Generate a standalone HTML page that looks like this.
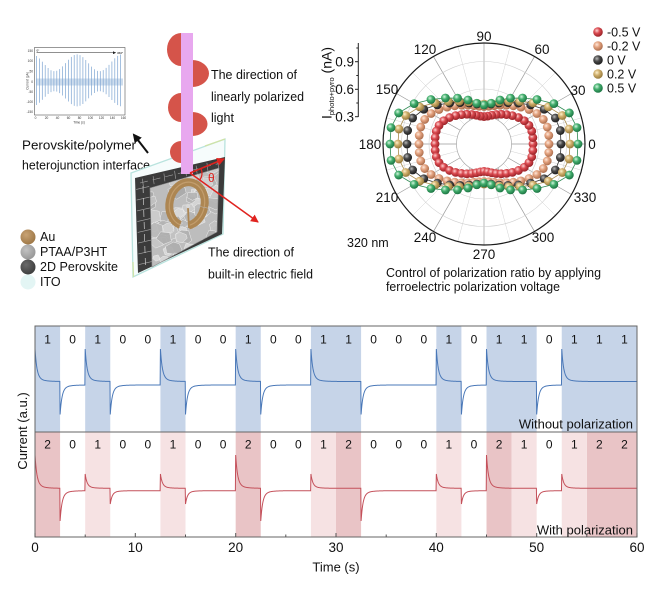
<!DOCTYPE html>
<html><head><meta charset="utf-8">
<style>
html,body{margin:0;padding:0;background:#fff;}
svg{display:block;}
text{font-family:"Liberation Sans",Arial,sans-serif;}
</style></head><body>
<svg id="s" xmlns="http://www.w3.org/2000/svg" width="650" height="591" viewBox="0 0 650 591">
<defs>
 <marker id="ab" markerWidth="9" markerHeight="9" refX="7" refY="4.5" orient="auto" markerUnits="userSpaceOnUse"><path d="M0,0 L9,4.5 L0,9 z" fill="#111"/></marker>
 <marker id="ar" markerWidth="8" markerHeight="8" refX="7" refY="4" orient="auto" markerUnits="userSpaceOnUse"><path d="M0,0 L8,4 L0,8 z" fill="#e0231f"/></marker>
 <marker id="ai" markerWidth="3" markerHeight="3" refX="3" refY="1.5" orient="auto" markerUnits="userSpaceOnUse"><path d="M0,0 L3,1.5 L0,3 z" fill="#222"/></marker>
 <radialGradient id="gR" cx="0.38" cy="0.35" r="0.65"><stop offset="0" stop-color="#ffd2d2"/><stop offset="0.45" stop-color="#da4a50"/><stop offset="1" stop-color="#9a2328"/></radialGradient>
 <radialGradient id="gS" cx="0.38" cy="0.35" r="0.65"><stop offset="0" stop-color="#ffe8da"/><stop offset="0.45" stop-color="#e3a27f"/><stop offset="1" stop-color="#ad6f4e"/></radialGradient>
 <radialGradient id="gK" cx="0.38" cy="0.35" r="0.65"><stop offset="0" stop-color="#b8b8b8"/><stop offset="0.45" stop-color="#4a4a4a"/><stop offset="1" stop-color="#1e1e1e"/></radialGradient>
 <radialGradient id="gG" cx="0.38" cy="0.35" r="0.65"><stop offset="0" stop-color="#fff1cc"/><stop offset="0.45" stop-color="#cfae6b"/><stop offset="1" stop-color="#977a3c"/></radialGradient>
 <radialGradient id="gN" cx="0.38" cy="0.35" r="0.65"><stop offset="0" stop-color="#d4f6df"/><stop offset="0.45" stop-color="#43ae6d"/><stop offset="1" stop-color="#1d7644"/></radialGradient>
 <radialGradient id="gAu" cx="0.38" cy="0.35" r="0.7"><stop offset="0" stop-color="#c9a374"/><stop offset="1" stop-color="#9c7645"/></radialGradient>
 <radialGradient id="gPT" cx="0.38" cy="0.35" r="0.7"><stop offset="0" stop-color="#c2c2c2"/><stop offset="1" stop-color="#959595"/></radialGradient>
 <radialGradient id="gPV" cx="0.38" cy="0.35" r="0.7"><stop offset="0" stop-color="#6a6a6a"/><stop offset="1" stop-color="#3c3c3c"/></radialGradient>
 <clipPath id="fc"><polygon points="150,188 219,168 217,232 152,267"/></clipPath>
</defs>

<!-- ===== Inset graph ===== -->
<g id="inset">
 <rect x="34.5" y="47.5" width="90.5" height="67.5" fill="#fff" stroke="#555" stroke-width="0.6"/>
 <rect x="36" y="78.5" width="87" height="7" fill="#b9cfe6" opacity="0.7"/>
 <g id="insetLines"></g>
 <line x1="36.5" y1="52.7" x2="116" y2="52.7" stroke="#222" stroke-width="0.5" marker-end="url(#ai)"/>
 <text x="36.5" y="51.5" font-size="3">0°</text>
 <text x="117" y="54" font-size="3">360°</text>
 <g font-size="3.2" fill="#333" text-anchor="end">
  <text x="33" y="52">150</text><text x="33" y="62">100</text><text x="33" y="72.5">50</text><text x="33" y="82.8">0</text><text x="33" y="93">-50</text><text x="33" y="103">-100</text><text x="33" y="113">-150</text>
 </g>
 <g font-size="3.2" fill="#333" text-anchor="middle">
  <text x="35.5" y="119">0</text><text x="46.5" y="119">20</text><text x="57.5" y="119">40</text><text x="68.5" y="119">60</text><text x="79.5" y="119">80</text><text x="90.5" y="119">100</text><text x="101.5" y="119">120</text><text x="112.5" y="119">140</text><text x="123.5" y="119">160</text>
  <text x="79" y="123.5">Time (s)</text>
  <text transform="translate(28.5,81) rotate(-90)">Current (pA)</text>
 </g>
</g>

<!-- black arrow -->
<line x1="148" y1="153" x2="134" y2="135" stroke="#111" stroke-width="2" marker-end="url(#ab)"/>

<!-- texts left -->
<g font-size="12.5" fill="#111">
 <text x="22" y="149.5" textLength="114" lengthAdjust="spacingAndGlyphs">Perovskite/polymer</text>
 <text x="22" y="169.5" textLength="128" lengthAdjust="spacingAndGlyphs">heterojunction interface</text>
 <text x="211" y="79" textLength="86" lengthAdjust="spacingAndGlyphs">The direction of</text>
 <text x="211" y="101" textLength="93" lengthAdjust="spacingAndGlyphs">linearly polarized</text>
 <text x="211" y="122">light</text>
 <text x="208" y="256.5" textLength="86" lengthAdjust="spacingAndGlyphs">The direction of</text>
 <text x="208" y="278.5" textLength="105" lengthAdjust="spacingAndGlyphs">built-in electric field</text>
 <text x="40" y="241">Au</text>
 <text x="40" y="256">PTAA/P3HT</text>
 <text x="40" y="271" textLength="78" lengthAdjust="spacingAndGlyphs">2D Perovskite</text>
 <text x="40" y="286">ITO</text>
</g>
<circle cx="28" cy="237" r="7.5" fill="url(#gAu)"/>
<circle cx="28" cy="252" r="7.5" fill="url(#gPT)"/>
<circle cx="28" cy="267" r="7.5" fill="url(#gPV)"/>
<circle cx="28" cy="282" r="7.5" fill="#e3f5f4"/>

<!-- ===== Device ===== -->
<polygon points="131,173 225,139 223,234 133,277" fill="#f6fcfc" stroke="#b9e3de" stroke-width="1.3"/>
<line x1="205" y1="146" x2="225" y2="139" stroke="#cfe3a8" stroke-width="1.3"/>
<line x1="133" y1="262" x2="133.5" y2="277" stroke="#cfe3a8" stroke-width="1.3"/>
<polygon points="135,178 225,157 222,234 138,273" fill="#3b3b3b"/>
<g id="slabTex" stroke="#a5a5a5" stroke-width="0.6" fill="none"></g>
<polygon points="150,188 219,168 217,232 152,267" fill="#bdbdbd"/>
<g id="faceTex" clip-path="url(#fc)"></g>
<polygon points="150,188 219,168 217,232 152,267" fill="none" stroke="#8a8a8a" stroke-width="0.6"/>
<!-- Au ring -->
<g transform="translate(187,204) rotate(12)">
 <ellipse cx="0" cy="0" rx="17.5" ry="22" fill="none" stroke="#ad8652" stroke-width="8" pathLength="100" stroke-dasharray="20 7 73"/>
 <ellipse cx="0" cy="0" rx="17.5" ry="22" fill="none" stroke="#d0ae80" stroke-width="1.2" pathLength="100" stroke-dasharray="20 7 73" opacity="0.6"/>
</g>
<line x1="189" y1="228" x2="188" y2="208" stroke="#ad8652" stroke-width="1.8"/>
<circle cx="188" cy="206" r="2.2" fill="#d8d8d8"/>

<!-- lobes and beam -->
<g fill="#d5544a">
 <path d="M181,33 A14,16.5 0 0 0 181,66 Z"/>
 <path d="M192,60 A17,13.5 0 0 1 192,87 Z"/>
 <path d="M181,93 A13,14.5 0 0 0 181,122 Z"/>
 <path d="M192,112 A15.5,12 0 0 1 192,136 Z"/>
 <path d="M181,141 A11,11 0 0 0 181,163 Z"/>
</g>
<rect x="181" y="33" width="12" height="141" fill="#e8a8ef"/>

<!-- red arrows -->
<line x1="190" y1="173" x2="224" y2="159" stroke="#e0231f" stroke-width="1.5" marker-end="url(#ar)"/>
<line x1="190" y1="173" x2="258" y2="222" stroke="#e0231f" stroke-width="1.5" marker-end="url(#ar)"/>
<path d="M201,168.5 A12,12 0 0 1 199.8,180" fill="none" stroke="#e0231f" stroke-width="1.2"/>
<text x="208" y="182" font-size="12" fill="#e0231f">θ</text>

<!-- ===== Polar plot ===== -->
<g id="polarGrid"></g>
<circle cx="484" cy="144" r="27.5" fill="none" stroke="#a8a8a8" stroke-width="0.7"/>
<circle cx="484" cy="144" r="55" fill="none" stroke="#cfcfcf" stroke-width="0.6"/>
<circle cx="484" cy="144" r="82.5" fill="none" stroke="#cfcfcf" stroke-width="0.6"/>
<circle cx="484" cy="144" r="101" fill="none" stroke="#1a1a1a" stroke-width="1.2"/>
<g id="polarData"></g>
<g font-size="13.5" fill="#111" text-anchor="middle">
 <text x="592" y="148.8">0</text>
 <text x="578" y="94.8">30</text>
 <text x="542" y="53.8">60</text>
 <text x="484" y="40.8">90</text>
 <text x="425" y="53.8">120</text>
 <text x="387" y="93.8">150</text>
 <text x="370" y="148.8">180</text>
 <text x="387" y="201.8">210</text>
 <text x="425" y="241.8">240</text>
 <text x="484" y="258.8">270</text>
 <text x="543" y="241.8">300</text>
 <text x="585" y="201.8">330</text>
</g>
<!-- radial axis -->
<line x1="358.3" y1="43" x2="358.3" y2="117" stroke="#222" stroke-width="1"/>
<g stroke="#222" stroke-width="1">
 <line x1="355" y1="61.7" x2="358.3" y2="61.7"/><line x1="355" y1="89.3" x2="358.3" y2="89.3"/><line x1="355" y1="116.7" x2="358.3" y2="116.7"/>
 <line x1="356.3" y1="48" x2="358.3" y2="48"/><line x1="356.3" y1="75.5" x2="358.3" y2="75.5"/><line x1="356.3" y1="103" x2="358.3" y2="103"/>
</g>
<g font-size="13.5" fill="#111" text-anchor="end">
 <text x="354" y="66.5">0.9</text>
 <text x="354" y="94">0.6</text>
 <text x="354" y="121.5">0.3</text>
</g>
<text transform="translate(331.5,119) rotate(-90)" font-size="14" fill="#111">I<tspan font-size="7.5" dy="2.5">photo+pyro</tspan><tspan font-size="14" dy="-2.5"> (nA)</tspan></text>
<!-- legend -->
<circle cx="598" cy="32" r="4.8" fill="url(#gR)"/>
<circle cx="598" cy="46" r="4.8" fill="url(#gS)"/>
<circle cx="598" cy="60" r="4.8" fill="url(#gK)"/>
<circle cx="598" cy="74" r="4.8" fill="url(#gG)"/>
<circle cx="598" cy="88" r="4.8" fill="url(#gN)"/>
<g font-size="12.5" fill="#111">
 <text x="607" y="36.5">-0.5 V</text>
 <text x="607" y="50.5">-0.2 V</text>
 <text x="607" y="64.5">0 V</text>
 <text x="607" y="78.5">0.2 V</text>
 <text x="607" y="92.5">0.5 V</text>
 <text x="347" y="247">320 nm</text>
 <text x="386" y="277" textLength="215" lengthAdjust="spacingAndGlyphs">Control of polarization ratio by applying</text>
 <text x="386" y="291" textLength="174" lengthAdjust="spacingAndGlyphs">ferroelectric polarization voltage</text>
</g>

<!-- ===== Bottom chart ===== -->
<g fill="#c6d4e8">
 <rect x="35" y="326" width="25.08" height="106"/>
 <rect x="85.17" y="326" width="25.08" height="106"/>
 <rect x="160.42" y="326" width="25.08" height="106"/>
 <rect x="235.67" y="326" width="25.08" height="106"/>
 <rect x="310.92" y="326" width="50.17" height="106"/>
 <rect x="436.33" y="326" width="25.08" height="106"/>
 <rect x="486.5" y="326" width="50.17" height="106"/>
 <rect x="561.75" y="326" width="75.25" height="106"/>
</g>
<g fill="#e9c4c6">
 <rect x="35" y="432" width="25.08" height="105"/>
 <rect x="235.67" y="432" width="25.08" height="105"/>
 <rect x="336" y="432" width="25.08" height="105"/>
 <rect x="486.5" y="432" width="25.08" height="105"/>
 <rect x="586.83" y="432" width="50.17" height="105"/>
</g>
<g fill="#f6e2e3">
 <rect x="85.17" y="432" width="25.08" height="105"/>
 <rect x="160.42" y="432" width="25.08" height="105"/>
 <rect x="310.92" y="432" width="25.08" height="105"/>
 <rect x="436.33" y="432" width="25.08" height="105"/>
 <rect x="511.58" y="432" width="25.08" height="105"/>
 <rect x="561.75" y="432" width="25.08" height="105"/>
</g>
<g id="sig"></g>
<rect x="35" y="326" width="602" height="211" fill="none" stroke="#666" stroke-width="1"/>
<line x1="35" y1="432" x2="637" y2="432" stroke="#666" stroke-width="1"/>
<g stroke="#555" stroke-width="1">
 <line x1="35" y1="537" x2="35" y2="533"/><line x1="135.3" y1="537" x2="135.3" y2="533"/><line x1="235.7" y1="537" x2="235.7" y2="533"/><line x1="336" y1="537" x2="336" y2="533"/><line x1="436.3" y1="537" x2="436.3" y2="533"/><line x1="536.7" y1="537" x2="536.7" y2="533"/><line x1="637" y1="537" x2="637" y2="533"/>
 <line x1="85.2" y1="537" x2="85.2" y2="534.5"/><line x1="185.5" y1="537" x2="185.5" y2="534.5"/><line x1="285.8" y1="537" x2="285.8" y2="534.5"/><line x1="386.2" y1="537" x2="386.2" y2="534.5"/><line x1="486.5" y1="537" x2="486.5" y2="534.5"/><line x1="586.8" y1="537" x2="586.8" y2="534.5"/>
</g>
<g font-size="12" fill="#111" text-anchor="middle">
 <text x="47.54" y="343.6">1</text><text x="72.63" y="343.6">0</text><text x="97.71" y="343.6">1</text><text x="122.79" y="343.6">0</text><text x="147.88" y="343.6">0</text><text x="172.96" y="343.6">1</text><text x="198.04" y="343.6">0</text><text x="223.13" y="343.6">0</text><text x="248.21" y="343.6">1</text><text x="273.29" y="343.6">0</text><text x="298.38" y="343.6">0</text><text x="323.46" y="343.6">1</text><text x="348.54" y="343.6">1</text><text x="373.63" y="343.6">0</text><text x="398.71" y="343.6">0</text><text x="423.79" y="343.6">0</text><text x="448.88" y="343.6">1</text><text x="473.96" y="343.6">0</text><text x="499.04" y="343.6">1</text><text x="524.13" y="343.6">1</text><text x="549.21" y="343.6">0</text><text x="574.29" y="343.6">1</text><text x="599.38" y="343.6">1</text><text x="624.46" y="343.6">1</text>
 <text x="47.54" y="448.3">2</text><text x="72.63" y="448.3">0</text><text x="97.71" y="448.3">1</text><text x="122.79" y="448.3">0</text><text x="147.88" y="448.3">0</text><text x="172.96" y="448.3">1</text><text x="198.04" y="448.3">0</text><text x="223.13" y="448.3">0</text><text x="248.21" y="448.3">2</text><text x="273.29" y="448.3">0</text><text x="298.38" y="448.3">0</text><text x="323.46" y="448.3">1</text><text x="348.54" y="448.3">2</text><text x="373.63" y="448.3">0</text><text x="398.71" y="448.3">0</text><text x="423.79" y="448.3">0</text><text x="448.88" y="448.3">1</text><text x="473.96" y="448.3">0</text><text x="499.04" y="448.3">2</text><text x="524.13" y="448.3">1</text><text x="549.21" y="448.3">0</text><text x="574.29" y="448.3">1</text><text x="599.38" y="448.3">2</text><text x="624.46" y="448.3">2</text>
</g>
<g font-size="13" fill="#111">
 <text x="633" y="428.5" text-anchor="end">Without polarization</text>
 <text x="633" y="534.5" text-anchor="end">With polarization</text>
 <text transform="translate(27,431) rotate(-90)" text-anchor="middle">Current (a.u.)</text>
 <text x="336" y="571.5" text-anchor="middle">Time (s)</text>
</g>
<g font-size="13.5" fill="#111" text-anchor="middle">
 <text x="35" y="552">0</text><text x="135.3" y="552">10</text><text x="235.7" y="552">20</text><text x="336" y="552">30</text><text x="436.3" y="552">40</text><text x="536.7" y="552">50</text><text x="637" y="552">60</text>
</g>
</svg>
<script>
(function(){
var NS="http://www.w3.org/2000/svg";
function el(tag,a,p){var e=document.createElementNS(NS,tag);for(var k in a)e.setAttribute(k,a[k]);p.appendChild(e);return e;}
function G(id){return document.getElementById(id);}
// inset spikes
var ig=G('insetLines');
for(var x=36.5;x<123.5;x+=2.9){var A=18+8*Math.cos(2*Math.PI*(x-77)/45);
 el('line',{x1:x.toFixed(2),y1:(81.7-A*1.05).toFixed(2),x2:x.toFixed(2),y2:(81.7+A*0.95).toFixed(2),stroke:'#7ea5d2','stroke-width':0.7},ig);}
// signals
function signal(seq,L1,L0,pk,tr,color){
 var X0=35,W=602/24,d='',start=L0,target=L0,x0=35,prev=0,y;
 for(var i=0;i<24;i++){
  var cur=seq[i],xs=X0+i*W;
  if(prev===0&&cur>0){start=pk[cur];target=L1;x0=xs;d+=(i===0?'M':'L')+xs.toFixed(2)+','+start;}
  else if(prev>0&&cur===0){start=tr[prev];target=L0;x0=xs;d+='L'+xs.toFixed(2)+','+start;}
  else if(i===0){d+='M'+xs+','+L0;}
  for(var x=xs+0.4;x<=xs+W+0.01;x+=0.4){
   var dx=x-x0,f=0.85*Math.exp(-dx/1.9)+0.15*Math.exp(-dx/6);
   y=target+(start-target)*f;d+='L'+x.toFixed(2)+','+y.toFixed(2);}
  prev=cur;}
 el('path',{d:d,fill:'none',stroke:color,'stroke-width':1},G('sig'));
}
signal([1,0,1,0,0,1,0,0,1,0,0,1,1,0,0,0,1,0,1,1,0,1,1,1],381.5,385,{1:349},{1:414.5},'#4a78b8');
signal([2,0,1,0,0,1,0,0,2,0,0,1,2,0,0,0,1,0,2,1,0,1,2,2],488.3,490.7,{1:474,2:455},{1:504,2:521},'#c4505a');
// polar grid
var cx=484,cy=144,pg=G('polarGrid');
for(var a=0;a<360;a+=15){var t=a*Math.PI/180,maj=(a%30===0);
 el('line',{x1:(cx+27.5*Math.cos(t)).toFixed(2),y1:(cy-27.5*Math.sin(t)).toFixed(2),x2:(cx+101*Math.cos(t)).toFixed(2),y2:(cy-101*Math.sin(t)).toFixed(2),stroke:maj?'#9a9a9a':'#d2d2d2','stroke-width':maj?0.7:0.5},pg);}
// polar data
var S=[
 {a:49,b:30.5,n:3.0,dip:0.1,step:7.5,g:'gR',c:'#b8323a'},
 {a:65,b:39.5,n:3.0,dip:0.05,step:7.5,g:'gS',c:'#c07e5c'},
 {a:77,b:42,n:3.2,dip:0.06,step:10,g:'gK',c:'#333'},
 {a:86,b:43.5,n:3.2,dip:0.08,step:10,g:'gG',c:'#a88a4a'},
 {a:94,b:47,n:3.2,dip:0.17,step:10,g:'gN',c:'#2e8a52'}];
var pd=G('polarData');
S.forEach(function(s){
 var pts=[];
 for(var d=0;d<360;d+=s.step){var t=d*Math.PI/180,c=Math.abs(Math.cos(t)),sn=Math.abs(Math.sin(t));
  var r=1/Math.pow(Math.pow(c/s.a,s.n)+Math.pow(sn/s.b,s.n),1/s.n);
  var dd=Math.min(Math.abs(d-90),Math.abs(d-270));r*=1-s.dip*Math.exp(-Math.pow(dd/20,2));
  pts.push([cx+r*Math.cos(t),cy-r*Math.sin(t)]);}
 el('polygon',{points:pts.map(function(p){return p[0].toFixed(2)+','+p[1].toFixed(2);}).join(' '),fill:'none',stroke:s.c,'stroke-width':0.8},pd);
 pts.forEach(function(p){el('circle',{cx:p[0].toFixed(2),cy:p[1].toFixed(2),r:4.4,fill:'url(#'+s.g+')'},pd);});
});
// device textures
var seed=11;function rnd(){seed=(seed*16807)%2147483647;return seed/2147483647;}
var ft=G('faceTex');
for(var k=0;k<80;k++){var px=146+rnd()*76,py=162+rnd()*110,rr=4+rnd()*6,n=5+Math.floor(rnd()*2),ps=[];
 var g=Math.floor(165+rnd()*55);
 for(var j=0;j<n;j++){var an=j/n*2*Math.PI+rnd()*0.6;ps.push((px+rr*Math.cos(an)).toFixed(1)+','+(py+rr*0.8*Math.sin(an)).toFixed(1));}
 el('polygon',{points:ps.join(' '),fill:'rgb('+g+','+g+','+g+')',stroke:'#f2f2f2','stroke-width':0.5,opacity:0.9},ft);}
var st=G('slabTex');
// top band joints
for(var k=0;k<8;k++){var u=(k+0.5)/8,x1=137+u*86,y1=179-u*21;
 el('line',{x1:(x1).toFixed(1),y1:(y1+1).toFixed(1),x2:(x1+1).toFixed(1),y2:(y1+9).toFixed(1)},st);}
el('line',{x1:140,y1:183,x2:221,y2:163,'stroke-dasharray':'8 5'},st);
// left band joints
for(var k=0;k<8;k++){var u=(k+0.5)/8,y0=184+u*86,x0=136+u*3;
 el('line',{x1:x0.toFixed(1),y1:y0.toFixed(1),x2:(x0+13).toFixed(1),y2:(y0-3).toFixed(1)},st);}
el('line',{x1:143,y1:186,x2:145.5,y2:268,'stroke-dasharray':'7 5',stroke:'#e0e0e0'},st);
})();
</script>
</body></html>
